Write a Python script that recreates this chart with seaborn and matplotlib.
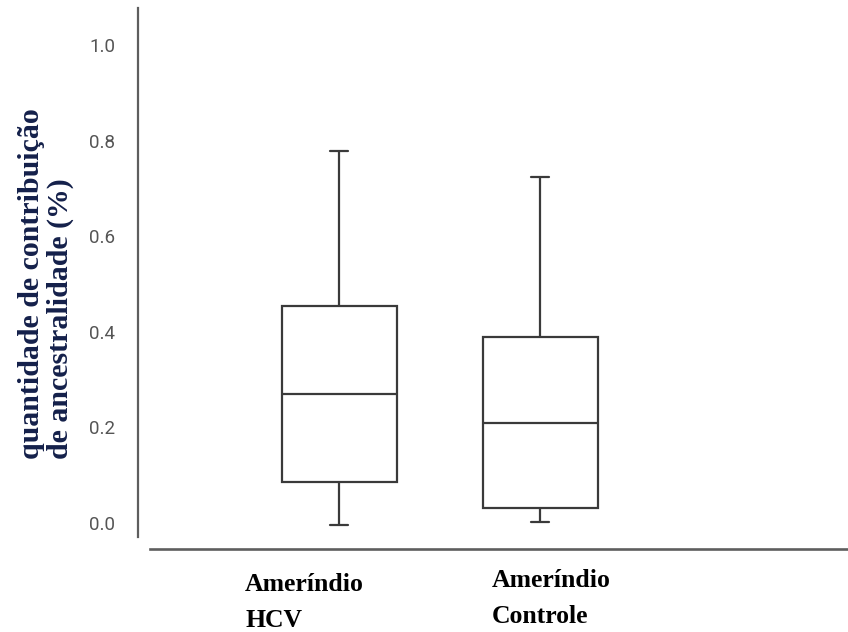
import numpy as np
import pandas as pd
import matplotlib
matplotlib.use("Agg")
import matplotlib.pyplot as plt
import seaborn as sns

# Five-number summaries per group (min, Q1, median, Q3, max)
groups = ["Ameríndio\nHCV", "Ameríndio\nControle"]
hcv_values = [-0.005, 0.086, 0.270, 0.455, 0.778]
controle_values = [0.002, 0.032, 0.209, 0.389, 0.724]
y_ticks = [0.0, 0.2, 0.4, 0.6, 0.8, 1.0]
y_label = "quantidade de contribuição\nde ancestralidade (%)"

df = pd.DataFrame({
    "grupo": [groups[0]] * len(hcv_values) + [groups[1]] * len(controle_values),
    "valor": hcv_values + controle_values,
})

sns.set_style("white")

W, H = 848, 632
fig = plt.figure(figsize=(W / 100, H / 100), dpi=100)
ax = fig.add_axes([138 / W, 1 - 549 / H, (W - 138) / W, (549 - 8) / H])

box_width = 0.572
cap_width = 0.085
line_color = "#3a3a3a"
axis_color = "#5e5e5e"

sns.boxplot(
    data=df, x="grupo", y="valor", order=groups,
    whis=(0, 100), width=box_width, color="white", saturation=1,
    linecolor=line_color, linewidth=1.6, ax=ax,
)

# shorten the whisker caps
for line in ax.lines:
    x = np.asarray(line.get_xdata(), dtype=float)
    y = np.asarray(line.get_ydata(), dtype=float)
    if len(x) == 2 and y[0] == y[1] and abs(x[1] - x[0]) < 0.9 * box_width:
        c = x.mean()
        line.set_xdata([c - cap_width / 2, c + cap_width / 2])

ax.set_xlim(-1.0, 2.532)
ax.set_ylim(-0.0544, 1.0774)

for side in ("top", "right"):
    ax.spines[side].set_visible(False)
ax.spines["left"].set_bounds(-0.029, 1.0774)
ax.spines["left"].set_color(axis_color)
ax.spines["left"].set_linewidth(1.6)
ax.spines["bottom"].set_bounds(-0.94, 2.532)
ax.spines["bottom"].set_color(axis_color)
ax.spines["bottom"].set_linewidth(1.9)

ax.set_yticks(y_ticks)
ax.set_yticklabels([f"{v:.1f}" for v in y_ticks], fontfamily="Roboto")
ax.tick_params(axis="y", length=0, pad=16.5, labelsize=13.5, labelcolor="#555555")
ax.set_xticks([])
ax.set_xlabel("")
ax.set_ylabel("")

# category labels, left-aligned below each box (offsets in pixels)
label_offsets = [(-94, -24), (-48, -20)]
for i, (name, (dx, dy)) in enumerate(zip(groups, label_offsets)):
    ax.annotate(
        name, xy=(i, 0), xycoords=("data", "axes fraction"),
        xytext=(dx * 0.72, dy * 0.72), textcoords="offset points",
        ha="left", va="top", multialignment="left",
        fontfamily="Liberation Serif", fontweight="bold", fontsize=18.5,
        color="black", linespacing=1.7,
    )

fig.text(
    46 / W, 1 - 459 / H, y_label, rotation=90,
    ha="center", va="bottom", multialignment="left",
    fontfamily="Liberation Serif", fontweight="bold", fontsize=21.5,
    color="#14204a", linespacing=1.12,
)

fig.savefig("out.png", dpi=100, facecolor="white")
